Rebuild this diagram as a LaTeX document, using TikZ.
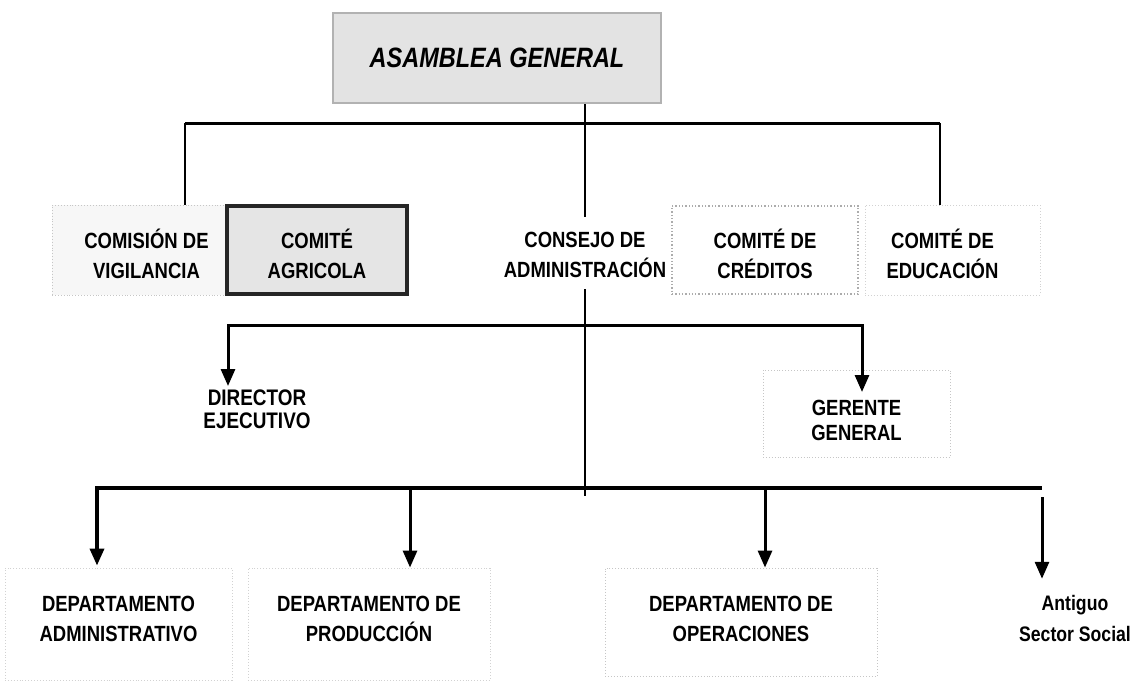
\documentclass[tikz,border=0pt]{standalone}
\usepackage{fontspec}
\setmainfont{Liberation Sans}[FakeStretch=0.84]
\usetikzlibrary{positioning, arrows.meta}

\begin{document}
\begin{tikzpicture}[x=1pt, y=-1pt,
	caja/.style={rectangle, draw=gray!45, dotted, line width=0.9pt, align=center, text depth=0pt, font=\bfseries\fontsize{22}{30}\selectfont},
	texto/.style={align=center, font=\bfseries\fontsize{22}{30}\selectfont},
	linea/.style={line width=1.4pt},
	barra/.style={line width=3pt},
	flecha/.style={line width=3pt, -{Triangle[length=17pt, width=14pt]}}]
	\useasboundingbox (0,0) rectangle (1136,686);

	\node[rectangle, draw=gray!60, line width=2pt, fill=gray!22, minimum width=328pt, minimum height=90pt, font=\bfseries\itshape\fontsize{28}{30}\selectfont] (asamblea) at (497,58) {ASAMBLEA GENERAL};

	\node[caja, minimum width=173pt, minimum height=90pt, fill=gray!6, text height=56pt] (vigil) at (138.5,250) {\hspace*{16pt}COMISIÓN DE\\\hspace*{16pt}VIGILANCIA};
	\node[caja, solid, draw=black!85, line width=4.5pt, fill=gray!20, minimum width=180pt, minimum height=88pt, text height=56pt] (agric) at (317,250) {COMITÉ\\AGRICOLA};
	\node[texto] (consejo) at (585,255) {CONSEJO DE\\ADMINISTRACIÓN};
	\node[caja, draw=gray!65, line width=1.3pt, minimum width=186pt, minimum height=88pt, text height=56pt] (cred) at (765,250) {COMITÉ DE\\CRÉDITOS};
	\node[caja, draw=gray!35, minimum width=175pt, minimum height=90pt, text height=56pt] (educ) at (952.5,250) {COMITÉ DE\hspace*{20pt}\\EDUCACIÓN\hspace*{20pt}};

	\node[texto, font=\bfseries\fontsize{22.5}{23}\selectfont] (director) at (257,409) {DIRECTOR\\EJECUTIVO};
	\node[caja, font=\bfseries\fontsize{22}{25}\selectfont, minimum width=187pt, minimum height=87pt, text height=53pt] (gerente) at (856.5,413.5) {GERENTE\\GENERAL};

	\node[caja, draw=gray!35, minimum width=227pt, minimum height=112pt, text height=34pt] (depadm) at (118.5,624) {DEPARTAMENTO\\ADMINISTRATIVO};
	\node[caja, draw=gray!35, minimum width=242pt, minimum height=112pt, text height=34pt] (depprod) at (369,624) {DEPARTAMENTO DE\\PRODUCCIÓN};
	\node[caja, minimum width=272pt, minimum height=108pt, text height=38pt] (depop) at (741,622) {DEPARTAMENTO DE\\OPERACIONES};
	\node[texto, font=\bfseries\fontsize{21}{31}\selectfont] (sector) at (1075,618.5) {Antiguo\\Sector Social};

	% primer nivel
	\coordinate (bus1) at (585,123);
	\coordinate (b1l) at (185,123);
	\coordinate (b1r) at (940,123);
	\draw[barra] (b1l) -- (b1r);
	\draw[linea] (b1l) -- (b1l |- vigil.north);
	\draw[linea] (b1r) -- (b1r |- educ.north);
	\draw[linea] (asamblea.south -| bus1) -- ([yshift=12pt]consejo.north);

	% director y gerente
	\coordinate (bus2) at (585,325);
	\coordinate (dtip) at (228,386);
	\coordinate (gtip) at (862,392);
	\draw[flecha] (bus2) -| (dtip);
	\draw[flecha] (bus2) -| (gtip);
	\draw[linea] ([yshift=-8pt]consejo.south) -- (585,496);

	% departamentos
	\coordinate (bus3) at (585,488);
	\coordinate (b3r) at (1042,488);
	\coordinate (a2) at (410,488);
	\coordinate (a3) at (765,488);
	\draw[flecha, line width=3.5pt] (bus3) -| ([xshift=-21.5pt, yshift=2pt]depadm.north);
	\draw[barra, line width=3.5pt] (bus3) -- (b3r);
	\draw[flecha] (a2) -- (a2 |- depprod.north);
	\draw[flecha] (a3) -- (a3 |- depop.north);
	\draw[flecha] ([yshift=-9pt]b3r) -- ([yshift=13pt]b3r |- sector.north);
\end{tikzpicture}
\end{document}
